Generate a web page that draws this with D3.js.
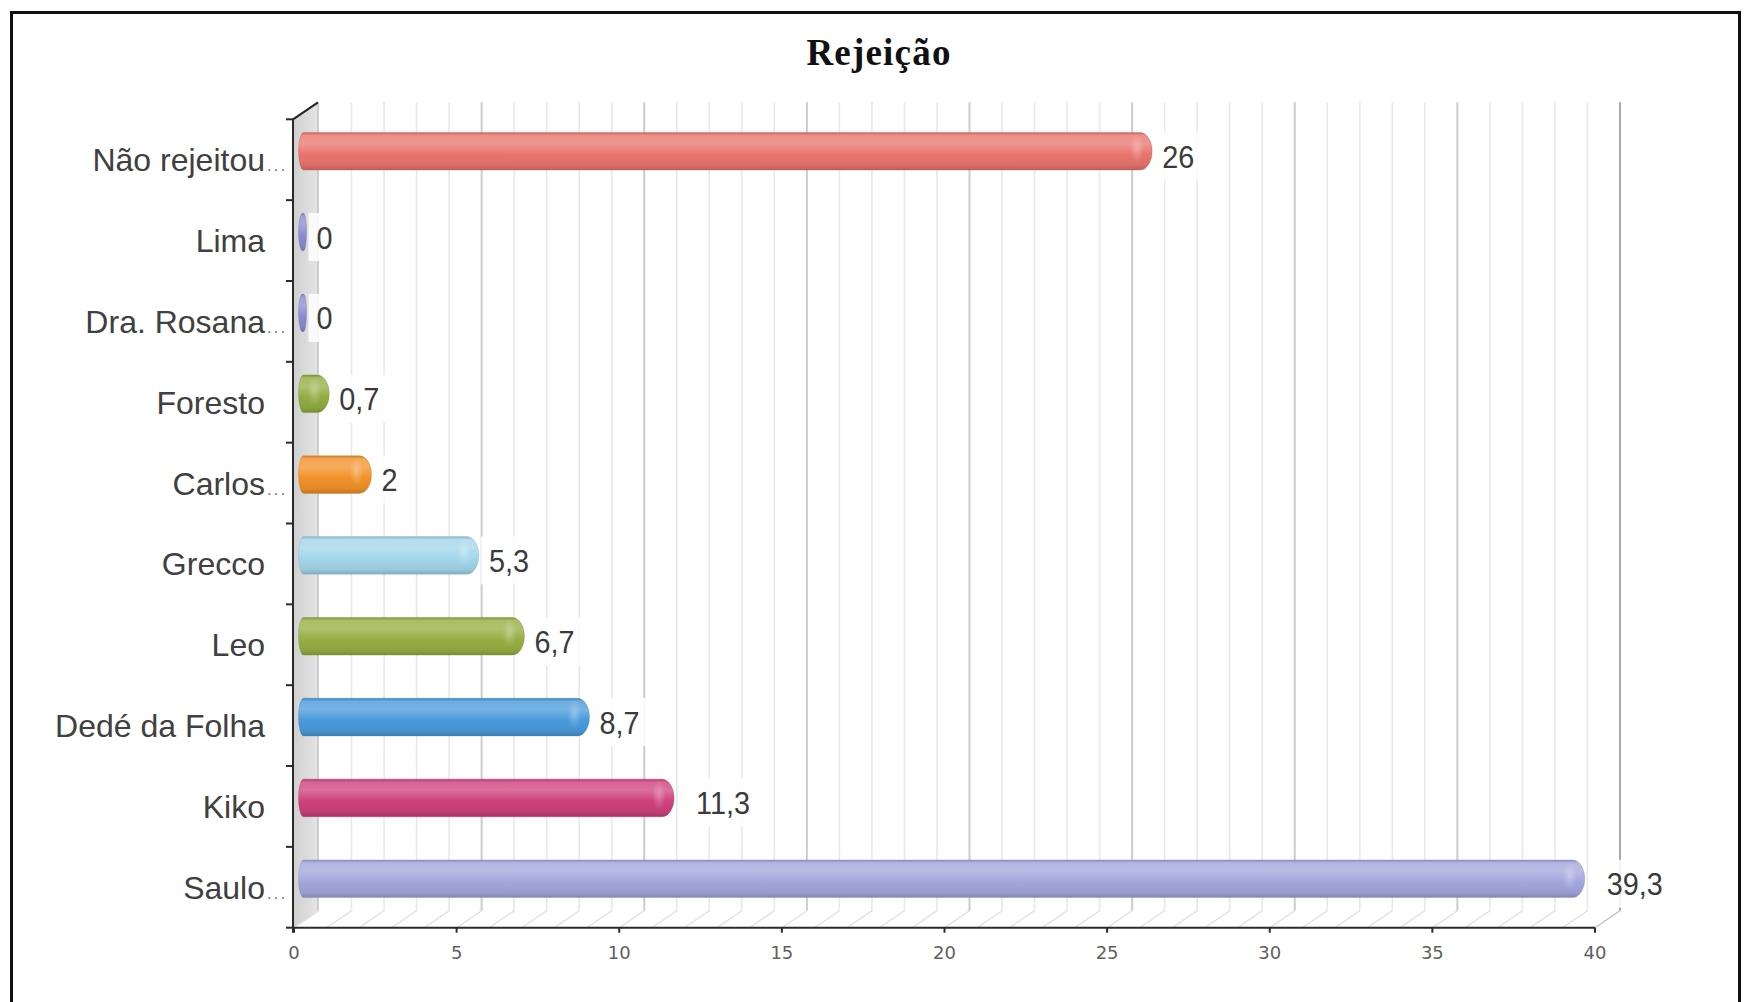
<!DOCTYPE html>
<html><head><meta charset="utf-8">
<script src="https://cdn.jsdelivr.net/npm/d3@7"></script>
<style>html,body{margin:0;padding:0;background:#fff;overflow:hidden} svg{display:block}</style>
</head><body>
<svg id="chart" width="1749" height="1002"></svg>
<script>
// ---- data ----
const title = "Rejeição";
const categories = ["Não rejeitou...", "Lima", "Dra. Rosana...", "Foresto", "Carlos...", "Grecco", "Leo", "Dedé da Folha", "Kiko", "Saulo..."];
const values = [26, 0, 0, 0.7, 2, 5.3, 6.7, 8.7, 11.3, 39.3];
const barColors = ["#e9756e", "#8a8dd0", "#8a8dd0", "#93ad42", "#f2922a", "#a3d6ea", "#97ae42", "#4a9bdb", "#cf417d", "#a2a6dc"];
const xTicks = [0, 5, 10, 15, 20, 25, 30, 35, 40];
const xMax = 40;

// ---- layout ----
const svg = d3.select("#chart");
const defs = svg.append("defs");
const DX = 25, DY = -17;           // 3D depth offset
const plotTop = 119.3, plotBottom = 927.7;
const x = d3.scaleLinear().domain([0, xMax]).range([294, 1595]);
const y = d3.scaleBand().domain(categories).range([plotTop, plotBottom]).paddingInner(0).paddingOuter(0);
const axisX = 293;

// frame
svg.append("rect").attr("x", 11.5).attr("y", 12.5).attr("width", 1728).attr("height", 1200)
  .attr("fill", "none").attr("stroke", "#111").attr("stroke-width", 3);

// title
svg.append("text").attr("x", 879).attr("y", 65).attr("text-anchor", "middle")
  .attr("font-family", "'Liberation Serif', 'Times New Roman', serif").attr("font-weight", "bold")
  .attr("font-size", 37).attr("letter-spacing", 1.2).attr("fill", "#111").text(title);

// left wall
const wallGrad = defs.append("linearGradient").attr("id", "wallGrad").attr("x1", 0).attr("x2", 1).attr("y1", 0).attr("y2", 0);
wallGrad.append("stop").attr("offset", 0).attr("stop-color", "#d0d0d0");
wallGrad.append("stop").attr("offset", 1).attr("stop-color", "#e4e4e4");
svg.append("path")
  .attr("d", `M${axisX},${plotTop} L${axisX + DX},${plotTop + DY} L${axisX + DX},${plotBottom + DY} L${axisX},${plotBottom} Z`)
  .attr("fill", "url(#wallGrad)");
svg.append("line").attr("x1", axisX + DX).attr("x2", axisX + DX).attr("y1", plotTop + DY).attr("y2", plotBottom + DY)
  .attr("stroke", "#c2c2c2").attr("stroke-width", 1.5);

// back wall grid lines + floor lines
const gridVals = d3.range(0, xMax + 1, 1);
const grid = svg.append("g");
gridVals.forEach(v => {
  const major = v % 5 === 0;
  const col = v === xMax ? "#a9a9a9" : (major ? "#cccccc" : "#e8e8e8");
  if (v > 0) {
    grid.append("line").attr("x1", x(v) + DX).attr("x2", x(v) + DX)
      .attr("y1", plotTop + DY).attr("y2", plotBottom + DY)
      .attr("stroke", col).attr("stroke-width", major ? 2 : 1.6);
  }
  grid.append("line").attr("x1", x(v)).attr("y1", plotBottom).attr("x2", x(v) + DX).attr("y2", plotBottom + DY)
    .attr("stroke", v === xMax ? "#bdbdbd" : "#dedede").attr("stroke-width", 1.3);
});
// wall top edge
svg.append("line").attr("x1", axisX).attr("y1", plotTop).attr("x2", axisX + DX).attr("y2", plotTop + DY)
  .attr("stroke", "#222").attr("stroke-width", 2);

// bars (cylinders)
const barH = y.bandwidth() * 0.465;
const bars = svg.append("g");
const lighten = (c, t) => d3.color(d3.interpolateRgb(c, "#ffffff")(t));
categories.forEach((c, i) => {
  const col = d3.color(barColors[i]);
  const g = defs.append("linearGradient").attr("id", "bg" + i).attr("x1", 0).attr("x2", 0).attr("y1", 0).attr("y2", 1);
  [[0, col.darker(0.45)], [0.08, lighten(col, 0.18)], [0.3, lighten(col, 0.24)], [0.58, col], [0.87, col.darker(0.18)], [1, col.darker(0.6)]]
    .forEach(([o, cc]) => g.append("stop").attr("offset", o).attr("stop-color", cc.formatHex()));
  const cy = y(c) + y.bandwidth() / 2 + DY / 2;
  const yT = cy - barH / 2, yB = cy + barH / 2;
  const xL = x(0) + DX / 2 - 8;
  const xR = x(values[i]) + DX / 2;
  const w = xR - xL;
  const rl = Math.min(5, w / 2);
  const rr = Math.min(12, Math.max(1.5, w - rl - 1));
  const d = `M${xL + rl},${yT} L${xR - rr},${yT} A${rr},${barH / 2} 0 0 1 ${xR - rr},${yB} L${xL + rl},${yB} A${rl},${barH / 2} 0 0 1 ${xL + rl},${yT} Z`;
  bars.append("path").attr("d", d).attr("fill", `url(#bg${i})`)
    .attr("stroke", col.darker(0.4).formatHex()).attr("stroke-width", 0.8).attr("stroke-opacity", 0.5);
  if (w > 20) {
    const hg = defs.append("radialGradient").attr("id", "hl" + i);
    hg.append("stop").attr("offset", 0).attr("stop-color", "#fff").attr("stop-opacity", 0.28);
    hg.append("stop").attr("offset", 1).attr("stop-color", "#fff").attr("stop-opacity", 0);
    bars.append("ellipse").attr("cx", xR - rr - 3).attr("cy", cy - barH * 0.08)
      .attr("rx", 7).attr("ry", barH * 0.4).attr("fill", `url(#hl${i})`);
  }
});

// value labels
const fmt = v => String(v).replace(".", ",");
const labels = svg.append("g");
categories.forEach((c, i) => {
  const s = fmt(values[i]);
  const lx = x(values[i]) + DX / 2 + (s.length > 3 ? 22 : 10);
  const lc = y(c) + y.bandwidth() / 2 - 3.5;
  const t = labels.append("text")
    .attr("transform", `translate(${lx},${lc + 11.5}) scale(0.9,1)`)
    .attr("font-family", "'Liberation Sans', Arial, sans-serif").attr("font-size", 32)
    .attr("fill", "#3a3a3a").text(s);
  const bb = t.node().getBBox();
  labels.insert("rect", () => t.node())
    .attr("x", lx - 8).attr("y", lc - 24).attr("width", bb.width * 0.9 + 16).attr("height", 48)
    .attr("fill", "#fff").attr("fill-opacity", 0.85);
});

// y axis
svg.append("line").attr("x1", axisX).attr("x2", axisX).attr("y1", plotTop).attr("y2", plotBottom + 5)
  .attr("stroke", "#2a2a2a").attr("stroke-width", 2);
const yBounds = categories.map(c => y(c)).concat([plotBottom]);
yBounds.forEach(b => svg.append("line").attr("x1", axisX - 7).attr("x2", axisX).attr("y1", b).attr("y2", b)
  .attr("stroke", "#2a2a2a").attr("stroke-width", 2));

// category labels
const catG = svg.append("g").attr("font-family", "'Liberation Sans', Arial, sans-serif");
categories.forEach(c => {
  const cy = y(c) + y.bandwidth() / 2 + 11.5;
  const trunc = c.endsWith("...");
  const name = trunc ? c.slice(0, -3) : c;
  catG.append("text").attr("x", 265).attr("y", cy).attr("text-anchor", "end")
    .attr("font-size", 32).attr("fill", "#404040").text(name);
  if (trunc) {
    catG.append("text").attr("x", 267).attr("y", cy).attr("font-size", 16)
      .attr("letter-spacing", 2.4).attr("fill", "#6a6a6a").text("...");
  }
});

// x axis
svg.append("line").attr("x1", axisX).attr("x2", x(xMax)).attr("y1", plotBottom).attr("y2", plotBottom)
  .attr("stroke", "#2a2a2a").attr("stroke-width", 2);
xTicks.forEach(v => {
  svg.append("line").attr("x1", x(v)).attr("x2", x(v)).attr("y1", plotBottom).attr("y2", plotBottom + 5)
    .attr("stroke", "#2a2a2a").attr("stroke-width", 2);
  svg.append("text").attr("x", x(v)).attr("y", 959).attr("text-anchor", "middle")
    .attr("font-family", "'DejaVu Sans', Verdana, sans-serif").attr("font-size", 18)
    .attr("fill", "#606060").text(v);
});
</script>
</body></html>
